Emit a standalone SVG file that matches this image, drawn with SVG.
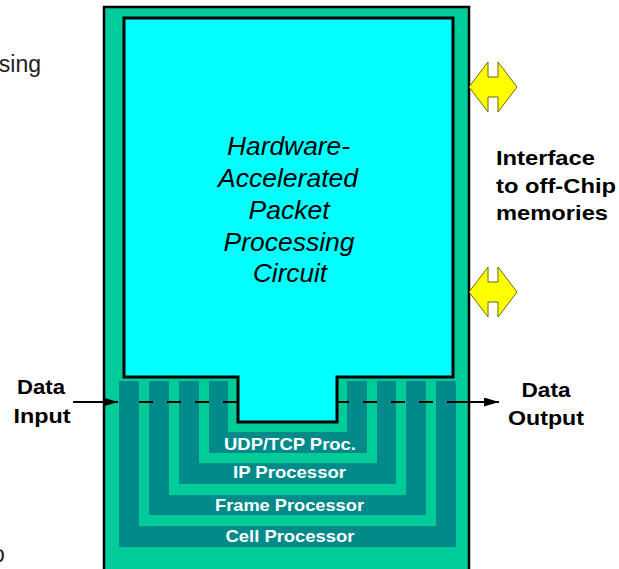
<svg xmlns="http://www.w3.org/2000/svg" xmlns:xlink="http://www.w3.org/1999/xlink" width="619" height="569" viewBox="0 0 619 569">
<style>
.dark{fill:#008A8A}
.green{fill:#00CC99}
.lbl{font-family:"Liberation Sans",Arial,sans-serif;font-weight:bold;font-size:17px;fill:#fff;text-anchor:middle}
.blk{font-family:"Liberation Sans",Arial,sans-serif;font-weight:bold;font-size:21px;fill:#000}
.ital{font-family:"Liberation Sans",Arial,sans-serif;font-style:italic;font-size:25px;fill:#000;text-anchor:middle}
.reg{font-family:"Liberation Sans",Arial,sans-serif;font-size:23px;fill:#222}
.ln{stroke:#000;stroke-width:2;fill:none}
</style>
<defs>
<marker id="ah" markerUnits="userSpaceOnUse" markerWidth="15" markerHeight="9" refX="15" refY="4.5" orient="auto">
<polygon points="0,0 15,4.5 0,9" fill="#000"/>
</marker>
<path id="dbl" d="M0,25 L19,0 L19,15 L29,15 L29,0 L48,25 L29,50 L29,35 L19,35 L19,50 Z" fill="#FFFF00" stroke="#6b6b00" stroke-width="1"/>
</defs>
<text class="reg" x="41" y="72" text-anchor="end">sing</text>
<text class="reg" x="-8" y="562">o</text>
<g id="chip">
<rect x="104" y="7" width="365" height="580" fill="#00CC99" stroke="#000" stroke-width="2.5"/>
</g>
<g id="cell-processor">
<rect class="dark" x="119" y="381" width="337" height="166"/>
<rect class="green" x="139" y="381" width="297" height="145"/>
<text class="lbl" x="290" y="542" textLength="129" lengthAdjust="spacingAndGlyphs">Cell Processor</text>
</g>
<g id="frame-processor">
<rect class="dark" x="149" y="381" width="277" height="134"/>
<rect class="green" x="169" y="381" width="237" height="114"/>
<text class="lbl" x="289.5" y="511" textLength="149" lengthAdjust="spacingAndGlyphs">Frame Processor</text>
</g>
<g id="ip-processor">
<rect class="dark" x="179" y="381" width="217" height="103"/>
<rect class="green" x="199" y="381" width="178" height="82"/>
<text class="lbl" x="289.5" y="478" textLength="113" lengthAdjust="spacingAndGlyphs">IP Processor</text>
</g>
<g id="udp-tcp-proc">
<rect class="dark" x="209" y="381" width="158" height="72"/>
<rect class="green" x="228" y="381" width="119" height="51"/>
<text class="lbl" x="290" y="450" textLength="132" lengthAdjust="spacingAndGlyphs">UDP/TCP Proc.</text>
</g>
<g id="connectors">
<path class="ln" d="M139,402 H447" stroke-dasharray="14 14"/>
</g>
<g id="packet-circuit">
<polygon points="124,18 453,18 453,377 337,377 337,422 238,422 238,377 124,377" fill="#00FFFF" stroke="#000" stroke-width="3"/>
<text class="ital" x="288.5" y="155" textLength="123" lengthAdjust="spacingAndGlyphs">Hardware-</text>
<text class="ital" x="288" y="187" textLength="140" lengthAdjust="spacingAndGlyphs">Accelerated</text>
<text class="ital" x="289" y="219" textLength="81" lengthAdjust="spacingAndGlyphs">Packet</text>
<text class="ital" x="289" y="251" textLength="131" lengthAdjust="spacingAndGlyphs">Processing</text>
<text class="ital" x="290" y="282" textLength="74" lengthAdjust="spacingAndGlyphs">Circuit</text>
</g>
<g id="connectors-2">
<path class="ln" d="M73,402 H118" marker-end="url(#ah)"/>
<path class="ln" d="M447,402 H499" marker-end="url(#ah)"/>
</g>
<g id="memory-interface">
<use xlink:href="#dbl" x="469" y="62"/>
<use xlink:href="#dbl" x="469" y="267"/>
<text class="blk" font-size="22" x="496" y="165" textLength="99" lengthAdjust="spacingAndGlyphs">Interface</text>
<text class="blk" font-size="22" x="496" y="193" textLength="120" lengthAdjust="spacingAndGlyphs">to off-Chip</text>
<text class="blk" font-size="22" x="496" y="220" textLength="112" lengthAdjust="spacingAndGlyphs">memories</text>
</g>
<g id="data-input">
<text class="blk" x="41" y="394" text-anchor="middle" textLength="48" lengthAdjust="spacingAndGlyphs">Data</text>
<text class="blk" x="42" y="423" text-anchor="middle" textLength="57" lengthAdjust="spacingAndGlyphs">Input</text>
</g>
<g id="data-output">
<text class="blk" x="546" y="397" text-anchor="middle" textLength="49" lengthAdjust="spacingAndGlyphs">Data</text>
<text class="blk" x="546" y="425" text-anchor="middle" textLength="76" lengthAdjust="spacingAndGlyphs">Output</text>
</g>
</svg>
